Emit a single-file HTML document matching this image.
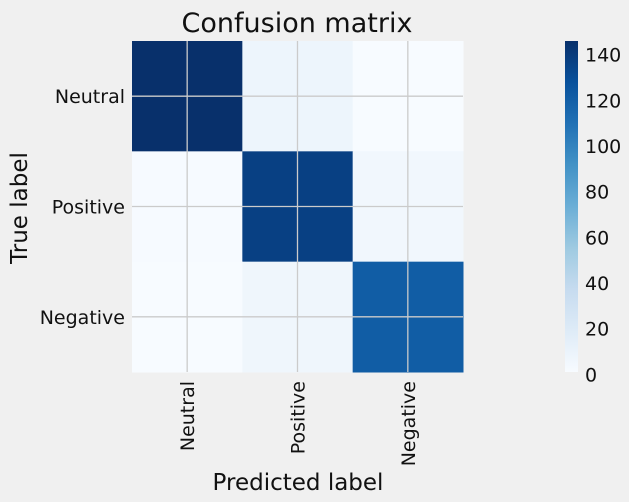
<!DOCTYPE html>
<html><head><meta charset="utf-8"><style>
html,body{margin:0;padding:0;background:#f0f0f0;}
svg{display:block;font-family:"DejaVu Sans","Liberation Sans",sans-serif;}
</style></head><body>
<svg id="chart" width="629" height="502">
<rect width="629" height="502" fill="#f0f0f0"/>
<text x="297" y="32" font-size="27" text-anchor="middle" fill="#111">Confusion matrix</text>
<g id="cells"></g>
<g id="grid"></g>
<g id="ylabels"></g>
<g id="xlabels"></g>
<text x="298" y="490" font-size="23" text-anchor="middle" fill="#111">Predicted label</text>
<text transform="translate(27,208) rotate(-90)" font-size="23" text-anchor="middle" fill="#111">True label</text>
<defs><linearGradient id="cbg" x1="0" y1="1" x2="0" y2="0"></linearGradient></defs>
<rect id="cbar" x="565" y="41" width="13" height="331" fill="url(#cbg)"/>
<g id="cbticks"></g>
</svg>
<script>
const categories = ["Neutral","Positive","Negative"];
const rowNeutral = [146, 8, 1];
const rowPositive = [2, 137, 5];
const rowNegative = [1, 7, 121];
const colorbarTicks = [0,20,40,60,80,100,120,140];

const matrix = [rowNeutral,rowPositive,rowNegative];
const NS="http://www.w3.org/2000/svg";
const x0=132,y0=41,W=331,H=331;
const n=categories.length, cw=W/n, ch=H/n;
const all=matrix.flat(); const vmax=Math.max(...all), vmin=Math.min(...all);
const blues=["#f7fbff","#deebf7","#c6dbef","#9ecae1","#6baed6","#4292c6","#2171b5","#08519c","#08306b"];
function hex(h){return [1,3,5].map(i=>parseInt(h.substr(i,2),16));}
function cmap(t){t=Math.max(0,Math.min(1,t));const p=t*8,i=Math.min(7,Math.floor(p)),f=p-i;
 const a=hex(blues[i]),b=hex(blues[i+1]);return "rgb("+a.map((v,k)=>Math.round(v+(b[k]-v)*f)).join(",")+")";}
const xs=j=>x0+j*cw, ys=i=>y0+i*ch;
const cells=document.getElementById('cells');
matrix.forEach((row,i)=>row.forEach((v,j)=>{
 const r=document.createElementNS(NS,'rect');
 r.setAttribute('x',xs(j));r.setAttribute('y',ys(i));r.setAttribute('width',cw+0.5);r.setAttribute('height',ch+0.5);
 r.setAttribute('fill',cmap((v-vmin)/(vmax-vmin)));
 
 
 cells.appendChild(r);
}));
const grid=document.getElementById('grid'), yl=document.getElementById('ylabels'), xl=document.getElementById('xlabels');
categories.forEach((c,k)=>{
 const cx=xs(k)+cw/2, cy=ys(k)+ch/2;
 const lv=document.createElementNS(NS,'line');
 lv.setAttribute('x1',cx);lv.setAttribute('x2',cx);lv.setAttribute('y1',y0);lv.setAttribute('y2',y0+H);
 lv.setAttribute('stroke','#cbcbcb');lv.setAttribute('stroke-width','1.3');
 
 
 grid.appendChild(lv);
 const lh=document.createElementNS(NS,'line');
 lh.setAttribute('y1',cy);lh.setAttribute('y2',cy);lh.setAttribute('x1',x0);lh.setAttribute('x2',x0+W);
 lh.setAttribute('stroke','#cbcbcb');lh.setAttribute('stroke-width','1.3');
 
 
 grid.appendChild(lh);
 const ty=document.createElementNS(NS,'text');
 ty.setAttribute('x',x0-7);ty.setAttribute('y',cy+7);ty.setAttribute('font-size','19');ty.setAttribute('text-anchor','end');ty.setAttribute('fill','#111');
 ty.textContent=c;
 
 
 yl.appendChild(ty);
 const tx=document.createElementNS(NS,'text');
 tx.setAttribute('transform','translate('+(cx+7)+','+(y0+H+9)+') rotate(-90)');
 tx.setAttribute('font-size','19');tx.setAttribute('text-anchor','end');tx.setAttribute('fill','#111');
 tx.textContent=c;
 
 
 xl.appendChild(tx);
});
const g=document.getElementById('cbg');
blues.forEach((b,i)=>{const s=document.createElementNS(NS,'stop');s.setAttribute('offset',(i/8));s.setAttribute('stop-color',b);g.appendChild(s);});
const cbt=document.getElementById('cbticks');
colorbarTicks.forEach(t=>{
 const y=372-(t-vmin)/(vmax-vmin)*331;
 const tt=document.createElementNS(NS,'text');
 tt.setAttribute('x',585);tt.setAttribute('y',y+7);tt.setAttribute('font-size','19');tt.setAttribute('fill','#111');
 tt.textContent=t;
 
 
 cbt.appendChild(tt);
});
</script>
</body></html>
